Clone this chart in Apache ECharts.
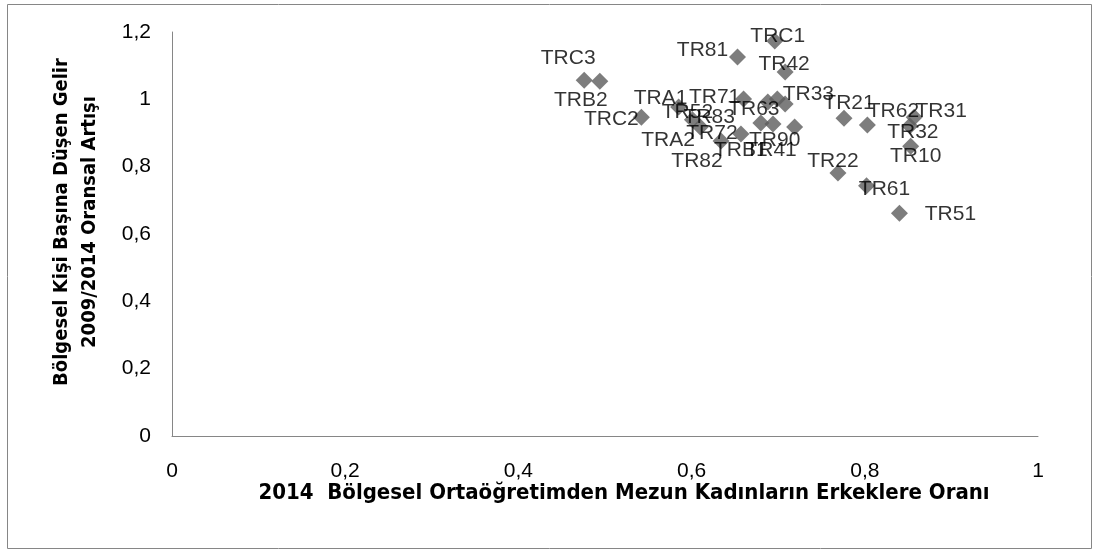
<!DOCTYPE html>
<html>
<head>
<meta charset="utf-8">
<title>Bölgesel Ortaöğretim ve Gelir Artışı</title>
<script src="https://cdn.jsdelivr.net/npm/echarts@6/dist/echarts.min.js"></script>
<style>
  html, body { margin: 0; padding: 0; background: #ffffff; }
  #chart { width: 1099px; height: 556px; }
</style>
</head>
<body>
<div id="chart"></div>
<script>
// NUTS-2 regions of Türkiye
const regions = [
  'TRC1', 'TR81', 'TR42', 'TRC3', 'TRB2', 'TRC2',
  'TRA1', 'TR52', 'TR83', 'TR71', 'TR63', 'TR33',
  'TR41', 'TRA2', 'TR72', 'TRB1', 'TR90', 'TR82',
  'TR21', 'TR62', 'TR31', 'TR32', 'TR10', 'TR22',
  'TR61', 'TR51'
];

// 2014 ratio of female to male secondary-school graduates
const femaleToMaleRatio = [
  0.696, 0.653, 0.708, 0.476, 0.494, 0.542,
  0.585, 0.601, 0.610, 0.660, 0.688, 0.699,
  0.708, 0.634, 0.657, 0.680, 0.719, 0.694,
  0.776, 0.803, 0.857, 0.852, 0.853, 0.769,
  0.802, 0.840
];

// Per-capita income, relative increase 2009/2014
const incomeGrowth = [
  1.173, 1.126, 1.081, 1.057, 1.054, 0.947,
  0.977, 0.939, 0.918, 1.001, 0.992, 1.001,
  0.986, 0.876, 0.897, 0.930, 0.918, 0.927,
  0.944, 0.924, 0.947, 0.921, 0.861, 0.781,
  0.743, 0.662
];

const xTicks = { min: 0, max: 1, step: 0.2 };
const yTicks = { min: 0, max: 1.2, step: 0.2 };

// Hand-placed label offsets (px) relative to each marker
const labelOffsets = {
  TRC1: [3, -5],   TR81: [-35, -7], TR42: [-1, -8],  TRC3: [-16, -22],
  TRB2: [-19, 19], TRC2: [-30, 2],  TRA1: [-18, -9], TR52: [-5, -8],
  TR83: [9, -10],  TR71: [-29, -2], TR63: [-14, 7],  TR33: [31, -5],
  TR41: [-14, 46], TRA2: [-53, -1], TR72: [-29, -1], TRB1: [-20, 27],
  TR90: [-20, 13], TR82: [-76, 37], TR21: [5, -15],  TR62: [26, -14],
  TR31: [27, -6],  TR32: [3, 6],    TR10: [5, 10],   TR22: [-5, -12],
  TR61: [18, 3],   TR51: [51, 1]
};

const decimalComma = v => String(+(+v).toFixed(1)).replace('.', ',');

const points = regions.map((name, i) => ({
  name: name,
  value: [femaleToMaleRatio[i], incomeGrowth[i]],
  label: { offset: labelOffsets[name] || [30, 0] }
}));

const labelFont = '"Liberation Sans", Arial, sans-serif';
const titleFont = '"Liberation Sans Narrow", "DejaVu Sans Condensed", "Liberation Sans", sans-serif';

const chart = echarts.init(document.getElementById('chart'), null, { renderer: 'canvas' });

chart.setOption({
  animation: false,
  backgroundColor: '#ffffff',
  grid: { left: 172, right: 61, top: 32, bottom: 120, containLabel: false },
  xAxis: {
    type: 'value',
    min: xTicks.min, max: xTicks.max, interval: xTicks.step,
    axisLine: { show: true, onZero: false, lineStyle: { color: '#868686', width: 1 } },
    axisTick: { show: false },
    splitLine: { show: false },
    axisLabel: {
      margin: 25, color: '#000000', fontFamily: labelFont, fontSize: 21,
      formatter: decimalComma
    }
  },
  yAxis: {
    type: 'value',
    min: yTicks.min, max: yTicks.max, interval: yTicks.step,
    axisLine: { show: true, onZero: false, lineStyle: { color: '#868686', width: 1 } },
    axisTick: { show: false },
    splitLine: { show: false },
    axisLabel: {
      margin: 21, color: '#000000', fontFamily: labelFont, fontSize: 21,
      formatter: decimalComma
    }
  },
  series: [{
    type: 'scatter',
    symbol: 'diamond',
    symbolSize: 17,
    itemStyle: { color: '#5c5c5c' },
    label: {
      show: true,
      position: 'inside',
      formatter: p => p.name,
      color: '#000000',
      fontFamily: labelFont,
      fontSize: 21
    },
    data: points
  }],
  graphic: [
    {
      type: 'rect',
      shape: { x: 7.5, y: 4.5, width: 1084, height: 544 },
      style: { fill: 'none', stroke: '#868686', lineWidth: 1 },
      silent: true
    },
    {
      type: 'text',
      x: 624, y: 493,
      style: {
        text: '2014  Bölgesel Ortaöğretimden Mezun Kadınların Erkeklere Oranı',
        font: 'bold 22px ' + titleFont,
        fill: '#000000',
        textAlign: 'center',
        textVerticalAlign: 'middle'
      }
    },
    {
      type: 'text',
      x: 76, y: 222,
      rotation: Math.PI / 2,
      style: {
        text: 'Bölgesel Kişi Başına Düşen Gelir\n2009/2014 Oransal Artışı',
        font: 'bold 20px ' + titleFont,
        lineHeight: 28,
        fill: '#000000',
        textAlign: 'center',
        textVerticalAlign: 'middle'
      }
    }
  ]
});
</script>
</body>
</html>
